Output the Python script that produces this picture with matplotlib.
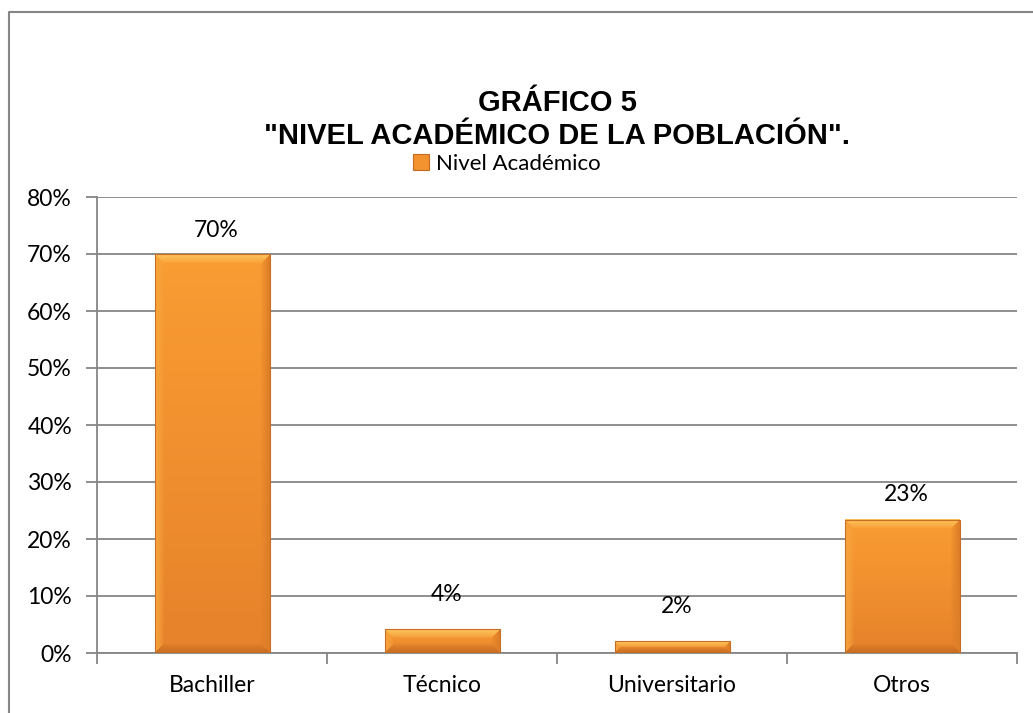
import numpy as np
import matplotlib
matplotlib.use("Agg")
import matplotlib.pyplot as plt
from matplotlib.patches import Rectangle
from matplotlib.lines import Line2D
from matplotlib.ticker import FixedLocator, FuncFormatter

# ---- data ----
categories = ["Bachiller", "Técnico", "Universitario", "Otros"]
values = [70.0, 4.2, 2.1, 23.4]
value_labels = ["70%", "4%", "2%", "23%"]
yticks = [0, 10, 20, 30, 40, 50, 60, 70, 80]
series_name = "Nivel Académico"
title_line1 = "GRÁFICO 5"
title_line2 = '"NIVEL ACADÉMICO DE LA POBLACIÓN".'

W, H = 1033, 713
GRAY = "#868686"
FONT = "Lato"
FS = 16.5

fig = plt.figure(figsize=(W / 100, H / 100), dpi=100)
ax = fig.add_axes([97 / W, 1 - 653 / H, 920 / W, 456 / H])

x = np.arange(len(categories))
bars = ax.bar(x, values, width=0.5, color="none", edgecolor="none", zorder=3)
ax.set_xlim(-0.5, len(categories) - 0.5)
ax.set_ylim(yticks[0], yticks[-1])


def hex2rgb(h):
    h = h.lstrip("#")
    return np.array([int(h[i:i + 2], 16) / 255 for i in (0, 2, 4)])


# bevelled gradient fill for each bar
top_c = hex2rgb("#FA9D33")
bot_c = hex2rgb("#E6822B")
bev_top = hex2rgb("#FCC35C")
bev_left = hex2rgb("#F7A43E")
bev_right = hex2rgb("#DD7E28")
bev_bot = hex2rgb("#C96E22")
for b in bars:
    x0, y0 = b.get_x(), b.get_y()
    x1, y1 = x0 + b.get_width(), y0 + b.get_height()
    (px0, py0), (px1, py1) = ax.transData.transform([(x0, y0), (x1, y1)])
    w = max(int(round(px1 - px0)), 2)
    h = max(int(round(py1 - py0)), 2)
    r = np.arange(h)[:, None] * np.ones((1, w))
    c = np.ones((h, 1)) * np.arange(w)[None, :]
    t = r / max(h - 1, 1)
    img = top_c[None, None, :] * (1 - t[..., None]) + bot_c[None, None, :] * t[..., None]
    bev = min(9, h / 2.0)
    dt, db, dl, dr = r, h - 1 - r, c, w - 1 - c
    stack = np.stack([dt, db, dl, dr])
    idx = np.argmin(stack, axis=0)
    dmin = np.min(stack, axis=0)
    cols = [bev_top, bev_bot, bev_left, bev_right]
    for k in range(4):
        m = (idx == k) & (dmin < bev)
        f = (1 - dmin / bev) ** 0.8
        f = np.where(m, f, 0.0)
        img = img * (1 - f[..., None]) + cols[k][None, None, :] * f[..., None]
    ax.imshow(img, extent=(x0, x1, y0, y1), aspect="auto", zorder=3,
              interpolation="bilinear", origin="upper")
    ax.add_patch(Rectangle((x0, y0), x1 - x0, y1 - y0, fill=False,
                           edgecolor="#C86E24", linewidth=0.8, zorder=4))

ax.set_xlim(-0.5, len(categories) - 0.5)
ax.set_ylim(yticks[0], yticks[-1])

# data labels (offsets in points)
label_offsets = [17, 25, 25, 18]
for b, lab, off in zip(bars, value_labels, label_offsets):
    ax.annotate(lab, (b.get_x() + b.get_width() / 2 + 0.02, b.get_height()),
                xytext=(0, off), textcoords="offset points",
                ha="center", va="center", fontsize=FS, family=FONT,
                color="black", zorder=5)

# axes styling
for s in ("top", "right"):
    ax.spines[s].set_visible(False)
for s in ("left", "bottom"):
    ax.spines[s].set_color(GRAY)
    ax.spines[s].set_linewidth(1.3)

ax.yaxis.set_major_locator(FixedLocator(yticks))
ax.yaxis.set_major_formatter(FuncFormatter(lambda v, p: f"{int(v)}%"))
ax.tick_params(axis="y", length=8, width=1.3, color=GRAY, pad=10,
               labelsize=FS, direction="out")
ax.grid(axis="y", color=GRAY, linewidth=1.3, zorder=0)
ax.set_axisbelow(True)

ax.set_xticks(x)
ax.set_xticklabels(categories)
ax.set_xticks(np.arange(len(categories) + 1) - 0.5, minor=True)
ax.tick_params(axis="x", which="major", length=0, pad=16, labelsize=FS)
ax.tick_params(axis="x", which="minor", length=8, width=1.3, color=GRAY,
               direction="out")
for lab in ax.get_xticklabels() + ax.get_yticklabels():
    lab.set_family(FONT)

# title
fig.text(557 / W, 1 - 103 / H, title_line1, ha="center", va="center",
         fontsize=21, fontweight="bold", family="Liberation Sans")
fig.text(557 / W, 1 - 136 / H, title_line2, ha="center", va="center",
         fontsize=21, fontweight="bold", family="Liberation Sans")

# legend
handle = Rectangle((0, 0), 1, 1, facecolor="#F29330", edgecolor="#C46A22",
                   linewidth=0.8)
leg = fig.legend([handle], [series_name], loc="center",
                 bbox_to_anchor=(507 / W, 1 - 164 / H), frameon=False,
                 handlelength=0.7, handleheight=0.7, handletextpad=0.35,
                 prop={"family": FONT, "size": 16})

# outer chart-area border (left and top visible)
fig.add_artist(Line2D([8.5 / W, 8.5 / W, 1.0], [0.0, 1 - 12 / H, 1 - 12 / H],
                      transform=fig.transFigure, color=GRAY, linewidth=1.5))

fig.savefig("out.png", dpi=100)
